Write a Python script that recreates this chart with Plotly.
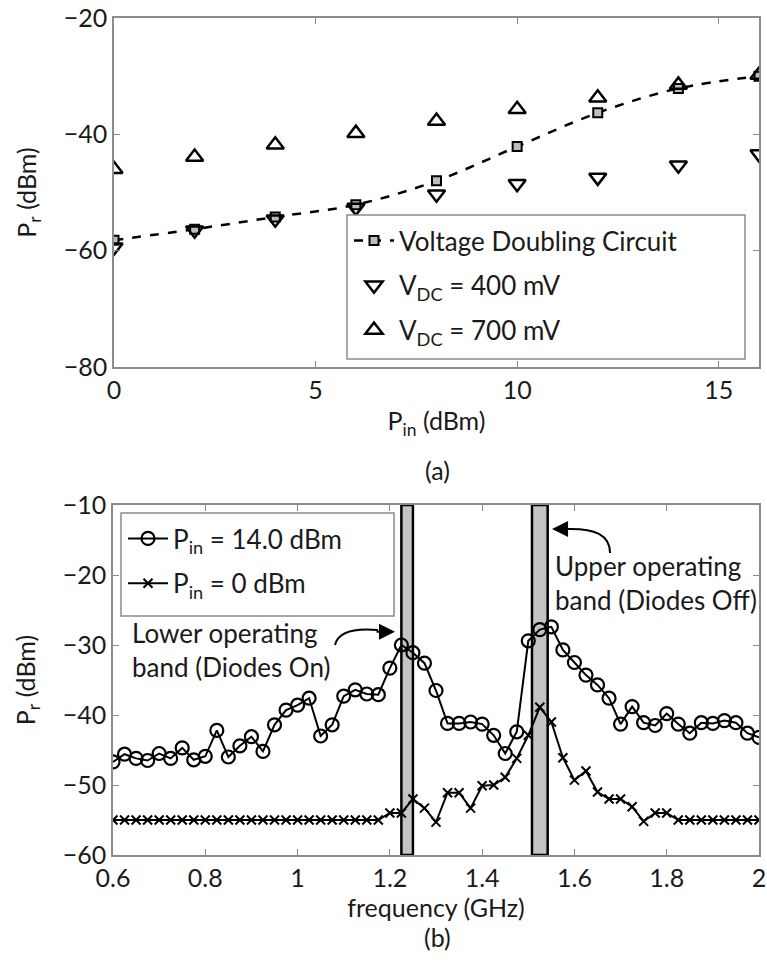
import plotly.graph_objects as go

# ---------------- data: panel (a) ----------------
pin_dbm = [0, 2, 4, 6, 8, 10, 12, 14, 16]
pr_doubler = [-58.2, -56.3, -54.2, -52.1, -48.0, -42.1, -36.3, -32.1, -30.0]
pr_vdc400 = [-59.4, -56.5, -54.6, -52.6, -50.3, -48.5, -47.4, -45.3, -43.4]
pr_vdc700 = [-46.0, -43.9, -41.8, -39.8, -37.7, -35.7, -33.7, -31.5, -29.8]

# ---------------- data: panel (b) ----------------
freq_ghz = [0.600, 0.625, 0.650, 0.675, 0.700, 0.725, 0.750, 0.775, 0.800, 0.825,
            0.850, 0.875, 0.900, 0.925, 0.950, 0.975, 1.000, 1.025, 1.050, 1.075,
            1.100, 1.125, 1.150, 1.175, 1.200, 1.225, 1.250, 1.275, 1.300, 1.325,
            1.350, 1.375, 1.400, 1.425, 1.450, 1.475, 1.500, 1.525, 1.550, 1.575,
            1.600, 1.625, 1.650, 1.675, 1.700, 1.725, 1.750, 1.775, 1.800, 1.825,
            1.850, 1.875, 1.900, 1.925, 1.950, 1.975, 2.000]
pr_pin14 = [-46.7, -45.6, -46.2, -46.5, -45.5, -46.2, -44.7, -46.4, -45.9, -42.2,
            -46.0, -44.4, -43.1, -45.2, -41.4, -39.3, -38.6, -37.6, -43.0, -41.4,
            -37.3, -36.4, -37.0, -37.1, -33.3, -30.0, -31.1, -32.6, -36.5, -41.2,
            -41.2, -41.0, -41.3, -42.9, -45.5, -42.4, -29.4, -27.8, -27.4, -30.7,
            -32.5, -34.3, -35.7, -37.6, -41.3, -38.8, -41.1, -41.5, -39.8, -41.3,
            -42.6, -41.1, -41.2, -40.8, -41.1, -42.6, -43.2]
pr_pin0 = [-55, -55, -55, -55, -55, -55, -55, -55, -55, -55,
           -55, -55, -55, -55, -55, -55, -55, -55, -55, -55,
           -55, -55, -55, -55, -54.0, -54.0, -52.0, -53.3, -55.3, -51.1,
           -51.1, -53.3, -50.1, -50.0, -48.9, -46.2, -42.9, -38.9, -41.0, -46.1,
           -49.3, -48.0, -51.0, -52.0, -52.0, -53.1, -55.2, -54.0, -54.0, -55,
           -55, -55, -55, -55, -55, -55, -55]
band_lower = [1.225, 1.250]
band_upper = [1.508, 1.542]

# ---------------- layout helpers (pixels -> paper) ----------------
W, H = 767, 966
FONT = "Lato"
TXT = "#1a1a1a"
AX = "#8c8c8c"
FS_TICK = 25
FS_TEXT = 26


def px(x):
    return x / W


def py(y):
    return 1 - y / H


fig = go.Figure()

# panel (a)
fig.add_trace(go.Scatter(
    x=pin_dbm, y=pr_doubler, mode="lines+markers", name="Voltage Doubling Circuit",
    line=dict(color="black", width=2.5, dash="dash", shape="spline"),
    marker=dict(symbol="square", size=9, color="#bdbdbd", line=dict(color="black", width=2)),
    xaxis="x", yaxis="y", legend="legend", legendgroup="a1"))
fig.add_trace(go.Scatter(
    x=pin_dbm, y=pr_vdc400, mode="markers", name="V<sub>DC</sub> = 400 mV",
    marker=dict(symbol="triangle-down-open", size=15, color="black", line=dict(width=2.5)),
    xaxis="x", yaxis="y", legend="legend", legendgroup="a2"))
fig.add_trace(go.Scatter(
    x=pin_dbm, y=pr_vdc700, mode="markers", name="V<sub>DC</sub> = 700 mV",
    marker=dict(symbol="triangle-up-open", size=15, color="black", line=dict(width=2.5)),
    xaxis="x", yaxis="y", legend="legend", legendgroup="a3"))

# panel (b)
fig.add_trace(go.Scatter(
    x=freq_ghz, y=pr_pin14, mode="lines+markers", name="P<sub>in</sub> = 14.0 dBm",
    line=dict(color="black", width=2),
    marker=dict(symbol="circle-open", size=13, color="black", line=dict(width=2.2)),
    xaxis="x2", yaxis="y2", legend="legend2", legendgroup="b1"))
fig.add_trace(go.Scatter(
    x=freq_ghz, y=pr_pin0, mode="lines+markers", name="P<sub>in</sub> = 0 dBm",
    line=dict(color="black", width=2),
    marker=dict(symbol="x-thin-open", size=9, color="black", line=dict(width=2)),
    xaxis="x2", yaxis="y2", legend="legend2", legendgroup="b2"))

# operating bands
for band in (band_lower, band_upper):
    fig.add_shape(type="rect", xref="x2", yref="y2", x0=band[0], x1=band[1], y0=-60, y1=-10,
                  fillcolor="#c4c4c4", line=dict(color="black", width=2.5), layer="below")

# legend frames (white boxes drawn above the data, under the legend text)
fig.add_shape(type="rect", xref="paper", yref="paper", x0=px(347), x1=px(745), y0=py(359), y1=py(215),
              fillcolor="white", line=dict(color=AX, width=1.5), layer="above")
fig.add_shape(type="rect", xref="paper", yref="paper", x0=px(121), x1=px(394), y0=py(616), y1=py(513),
              fillcolor="white", line=dict(color=AX, width=1.5), layer="above")

# curved arrows
fig.add_shape(type="path", xref="x2", yref="y2",
              path="M 1.0811,-30.0 C 1.0877,-28.14 1.1245,-27.57 1.1743,-27.86",
              line=dict(color="black", width=2))
fig.add_shape(type="path", xref="x2", yref="y2",
              path="M 1.6772,-16.86 C 1.6772,-14.29 1.6446,-13.29 1.5818,-13.43",
              line=dict(color="black", width=2))
fig.add_annotation(x=1.2112, y=-28.1, xref="x2", yref="y2", ax=-20, ay=0, text="",
                   showarrow=True, arrowhead=2, arrowsize=1.6, arrowwidth=2, arrowcolor="black")
fig.add_annotation(x=1.5515, y=-13.43, xref="x2", yref="y2", ax=20, ay=0, text="",
                   showarrow=True, arrowhead=2, arrowsize=1.6, arrowwidth=2, arrowcolor="black")

fig.add_annotation(x=0.6368, y=-30.7, xref="x2", yref="y2", xanchor="left", yanchor="middle",
                   align="left", showarrow=False, text="Lower operating<br>band (Diodes On)",
                   font=dict(size=FS_TEXT, color=TXT, family=FONT))
fig.add_annotation(x=1.5536, y=-21.2, xref="x2", yref="y2", xanchor="left", yanchor="middle",
                   align="left", showarrow=False, text="Upper operating<br>band (Diodes Off)",
                   font=dict(size=FS_TEXT, color=TXT, family=FONT))

# captions
fig.add_annotation(x=px(437), y=py(470), xref="paper", yref="paper", showarrow=False,
                   text="(a)", font=dict(size=FS_TICK, color=TXT, family=FONT))
fig.add_annotation(x=px(437), y=py(954), xref="paper", yref="paper", showarrow=False,
                   text="(b)", font=dict(size=FS_TICK, color=TXT, family=FONT))

axis_common = dict(showline=True, linecolor=AX, linewidth=1.5, mirror="ticks", ticks="inside",
                   ticklen=6, tickcolor=AX, tickwidth=1.2, showgrid=False, zeroline=False,
                   tickfont=dict(size=FS_TICK, color=TXT, family=FONT), automargin=False)
title_font = dict(size=FS_TICK, color=TXT, family=FONT)

fig.update_layout(
    width=W, height=H, margin=dict(l=0, r=0, t=0, b=0),
    paper_bgcolor="white", plot_bgcolor="white",
    font=dict(family=FONT, color=TXT),
    xaxis=dict(domain=[px(114), px(759)], range=[0, 16], dtick=5, anchor="y",
               title=dict(text="P<sub>in</sub> (dBm)", font=title_font, standoff=10),
               **axis_common),
    yaxis=dict(domain=[py(367), py(18)], range=[-80, -20], dtick=20, anchor="x",
               title=dict(text="P<sub>r</sub> (dBm)", font=title_font, standoff=20),
               **axis_common),
    xaxis2=dict(domain=[px(113), px(759)], range=[0.6, 2.0], dtick=0.2, anchor="y2",
                title=dict(text="frequency (GHz)", font=title_font, standoff=6),
                **axis_common),
    yaxis2=dict(domain=[py(855), py(505)], range=[-60, -10], dtick=10, anchor="x2",
                title=dict(text="P<sub>r</sub> (dBm)", font=title_font, standoff=20),
                **axis_common),
    legend=dict(x=px(349), y=py(217), xanchor="left", yanchor="top", bgcolor="rgba(0,0,0,0)",
                borderwidth=0, tracegroupgap=8, itemwidth=40,
                font=dict(size=FS_TEXT, color=TXT, family=FONT)),
    legend2=dict(x=px(123), y=py(515), xanchor="left", yanchor="top", bgcolor="rgba(0,0,0,0)",
                 borderwidth=0, tracegroupgap=8, itemwidth=40,
                 font=dict(size=FS_TEXT, color=TXT, family=FONT)),
    showlegend=True,
)

fig.write_html("out.html", config={"displayModeBar": False},
               post_script="document.body.style.margin='0';document.body.style.overflow='hidden';")
